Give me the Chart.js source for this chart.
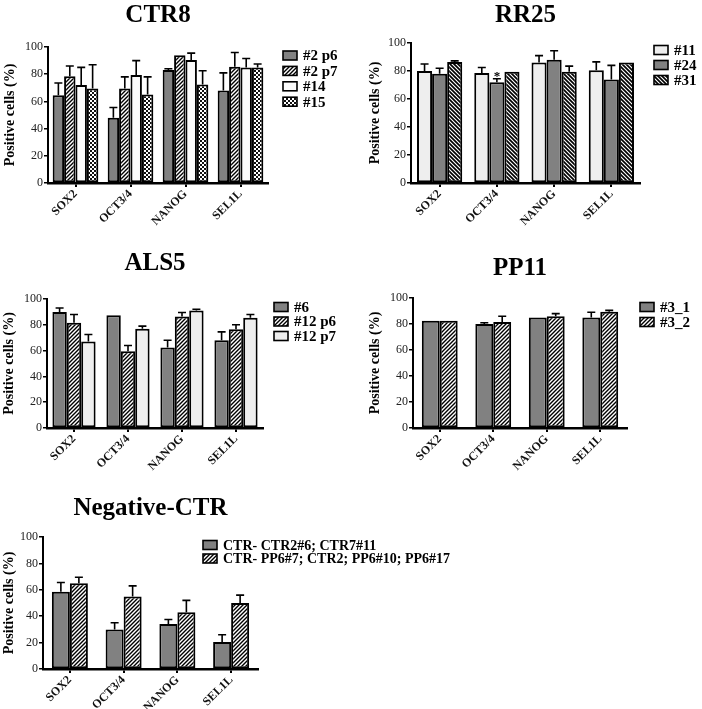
<!DOCTYPE html>
<html>
<head>
<meta charset="utf-8">
<script src="https://cdn.jsdelivr.net/npm/chart.js@4/dist/chart.umd.min.js"></script>
<style>
  body { margin: 0; background: #fff; width: 702px; height: 709px; position: relative; overflow: hidden; }
  canvas { position: absolute; }
</style>
</head>
<body>
<canvas id="ctr8" width="350" height="240" style="left:0;top:0"></canvas>
<canvas id="rr25" width="352" height="240" style="left:350px;top:0"></canvas>
<canvas id="als5" width="350" height="240" style="left:0;top:240px"></canvas>
<canvas id="pp11" width="352" height="240" style="left:350px;top:240px"></canvas>
<canvas id="neg" width="470" height="229" style="left:0;top:480px"></canvas>
<script>
// markers on the x axis (same for every panel)
const markers = ["SOX2", "OCT3/4", "NANOG", "SEL1L"];
const yTicks = [0, 20, 40, 60, 80, 100];

// CTR8
const ctr8Labels = ["#2 p6", "#2 p7", "#14", "#15"];
const ctr8_2p6 = [64.5, 48, 83, 68];
const ctr8_2p6Err = [9, 7.5, 1, 13];
const ctr8_2p7 = [78.5, 69.5, 94, 85.5];
const ctr8_2p7Err = [7.5, 8.5, 0.5, 10.5];
const ctr8_14 = [72, 79.5, 90.5, 85];
const ctr8_14Err = [13, 10.5, 5, 6.5];
const ctr8_15 = [69.5, 65, 72.5, 85];
const ctr8_15Err = [17.5, 13, 10, 2.5];

// RR25
const rr25Labels = ["#11", "#24", "#31"];
const rr25_11 = [80, 78.5, 86, 80.5];
const rr25_11Err = [5, 4, 5, 6];
const rr25_24 = [78, 72, 88, 74];
const rr25_24Err = [4, 2.5, 6.5, 10];
const rr25_24Stars = ["", "*", "", ""];
const rr25_31 = [86.5, 79.5, 79.5, 86];
const rr25_31Err = [0.7, 0.3, 4, 0.5];

// ALS5
const als5Labels = ["#6", "#12 p6", "#12 p7"];
const als5_6 = [90, 87.5, 62.5, 68];
const als5_6Err = [3, 0, 5.5, 6.5];
const als5_12p6 = [81.5, 59.5, 86.5, 76.5];
const als5_12p6Err = [6.5, 4.5, 3, 3.5];
const als5_12p7 = [67, 77, 91, 85.5];
const als5_12p7Err = [5.5, 2, 1, 2.5];

// PP11
const pp11Labels = ["#3_1", "#3_2"];
const pp11_1 = [82.5, 80, 85, 85];
const pp11_1Err = [0, 1, 0.3, 4];
const pp11_2 = [82.5, 81.5, 86, 89.5];
const pp11_2Err = [0.3, 4.5, 2, 1];

// Negative-CTR
const negLabels = ["CTR- CTR2#6; CTR7#11", "CTR- PP6#7; CTR2; PP6#10; PP6#17"];
const negA = [58.5, 30, 34, 20.5];
const negAErr = [7, 5, 3.5, 5.5];
const negB = [65, 55, 43, 50];
const negBErr = [4.5, 8, 9, 6];

const SERIF = "'Liberation Serif', 'Times New Roman', serif";
Chart.defaults.font.family = SERIF;
Chart.defaults.color = "#000";

// fills
const GRAY = "#818181";
const LIGHT = "#eeeeee";
const WHITE = "#fbfbfb";

function stripes(dir, gap, lw) {
    const c = document.createElement("canvas");
    c.width = c.height = gap;
    const g = c.getContext("2d");
    g.fillStyle = "#fff";
    g.fillRect(0, 0, gap, gap);
    g.strokeStyle = "#000";
    g.lineWidth = lw;
    g.beginPath();
    if (dir === "/") {
        g.moveTo(0, gap); g.lineTo(gap, 0);
        g.moveTo(-1, 1); g.lineTo(1, -1);
        g.moveTo(gap - 1, gap + 1); g.lineTo(gap + 1, gap - 1);
    } else {
        g.moveTo(0, 0); g.lineTo(gap, gap);
        g.moveTo(-1, gap - 1); g.lineTo(1, gap + 1);
        g.moveTo(gap - 1, -1); g.lineTo(gap + 1, 1);
    }
    g.stroke();
    return g.createPattern(c, "repeat");
}

function checks() {
    const c = document.createElement("canvas");
    c.width = c.height = 4;
    const g = c.getContext("2d");
    g.fillStyle = "#fff";
    g.fillRect(0, 0, 4, 4);
    g.fillStyle = "#111";
    g.fillRect(0, 0, 2, 2);
    g.fillRect(2, 2, 2, 2);
    g.fillRect(1, 1, 1, 1);
    return g.createPattern(c, "repeat");
}

const SLASH = stripes("/", 4, 1.4);
const BACK = stripes("\\", 4, 1.7);
const CHECK = checks();

// upper error bars (+ optional significance star)
Chart.register({
    id: "errBars",
    afterDatasetsDraw(chart) {
        const ctx = chart.ctx;
        const y = chart.scales.y;
        ctx.save();
        ctx.strokeStyle = "#000";
        ctx.lineWidth = 1.6;
        chart.data.datasets.forEach((ds, di) => {
            const meta = chart.getDatasetMeta(di);
            meta.data.forEach((bar, i) => {
                const top = y.getPixelForValue(ds.data[i]);
                const hi = y.getPixelForValue(ds.data[i] + (ds.err ? ds.err[i] : 0));
                if (top - hi > 0.8) {
                    ctx.beginPath();
                    ctx.moveTo(bar.x, top);
                    ctx.lineTo(bar.x, hi);
                    ctx.moveTo(bar.x - 4, hi);
                    ctx.lineTo(bar.x + 4, hi);
                    ctx.stroke();
                }
                if (ds.stars && ds.stars[i]) {
                    ctx.fillStyle = "#000";
                    ctx.font = "bold 13px " + SERIF;
                    ctx.textAlign = "center";
                    ctx.textBaseline = "alphabetic";
                    ctx.fillText(ds.stars[i], bar.x, hi + 1);
                }
            });
        });
        ctx.restore();
    }
});

// title centred over the plot area + legend at a fixed spot
Chart.register({
    id: "panelDeco",
    afterDraw(chart, args, opts) {
        const ctx = chart.ctx;
        const area = chart.chartArea;
        ctx.save();
        ctx.fillStyle = "#000";
        ctx.font = "bold 25px " + SERIF;
        ctx.textAlign = "center";
        ctx.textBaseline = "alphabetic";
        ctx.fillText(opts.title, (area.left + area.right) / 2, opts.titleY);

        ctx.font = "bold " + opts.legendFont + "px " + SERIF;
        ctx.textAlign = "left";
        ctx.textBaseline = "middle";
        chart.data.datasets.forEach((ds, i) => {
            const cy = opts.legendY + i * opts.legendGap;
            ctx.fillStyle = ds.backgroundColor;
            ctx.fillRect(opts.legendX, cy - 4.5, 14, 9);
            ctx.strokeStyle = "#000";
            ctx.lineWidth = 1.6;
            ctx.strokeRect(opts.legendX, cy - 4.5, 14, 9);
            ctx.fillStyle = "#000";
            ctx.fillText(ds.label, opts.legendX + 20, cy + 1);
        });
        ctx.restore();
    }
});

function bars(label, data, err, fill, extra) {
    return Object.assign({
        label: label,
        data: data,
        err: err,
        backgroundColor: fill,
        borderColor: "#000",
        borderWidth: 2,
        borderSkipped: false,
        barPercentage: 1
    }, extra || {});
}

function makePanel(id, datasets, p) {
    datasets.forEach(d => d.categoryPercentage = p.groupPct);
    new Chart(document.getElementById(id), {
        type: "bar",
        data: { labels: markers, datasets: datasets },
        options: {
            responsive: false,
            animation: false,
            devicePixelRatio: 1,
            layout: { padding: p.pad },
            plugins: {
                legend: { display: false },
                tooltip: { enabled: false },
                panelDeco: {
                    title: p.title, titleY: p.titleY,
                    legendX: p.legendX, legendY: p.legendY,
                    legendGap: p.legendGap, legendFont: p.legendFont || 15
                }
            },
            scales: {
                x: {
                    offset: true,
                    afterFit: s => { s.height = 45; },
                    grid: { offset: false, drawOnChartArea: false, tickLength: 4, color: "#000", lineWidth: 2 },
                    border: { color: "#000", width: 2.5 },
                    ticks: { minRotation: 45, maxRotation: 45, padding: 0, color: "#111", font: { size: 12, weight: "bold" } }
                },
                y: {
                    min: 0,
                    max: 100,
                    afterFit: s => { s.width = p.yWidth; },
                    afterBuildTicks: s => { s.ticks = yTicks.map(v => ({ value: v })); },
                    grid: { drawOnChartArea: false, tickLength: 4, color: "#000", lineWidth: 1.5 },
                    border: { color: "#000", width: 2 },
                    ticks: { padding: 1, color: "#222", font: { size: 12 } },
                    title: { display: true, text: "Positive cells (%)", padding: 0, font: { size: 14, weight: "bold" } }
                }
            }
        }
    });
}

makePanel("ctr8", [
    bars(ctr8Labels[0], ctr8_2p6, ctr8_2p6Err, GRAY),
    bars(ctr8Labels[1], ctr8_2p7, ctr8_2p7Err, SLASH),
    bars(ctr8Labels[2], ctr8_14, ctr8_14Err, WHITE),
    bars(ctr8Labels[3], ctr8_15, ctr8_15Err, CHECK)
], { title: "CTR8", titleY: 22, pad: { left: 2, top: 47, right: 82, bottom: 12 }, yWidth: 46,
     groupPct: 0.83, legendX: 283, legendY: 55.5, legendGap: 15.4 });

makePanel("rr25", [
    bars(rr25Labels[0], rr25_11, rr25_11Err, LIGHT),
    bars(rr25Labels[1], rr25_24, rr25_24Err, GRAY, { stars: rr25_24Stars }),
    bars(rr25Labels[2], rr25_31, rr25_31Err, BACK)
], { title: "RR25", titleY: 22, pad: { left: 17, top: 43, right: 62, bottom: 12 }, yWidth: 44,
     groupPct: 0.79, legendX: 304, legendY: 50, legendGap: 15 });

makePanel("als5", [
    bars(als5Labels[0], als5_6, als5_6Err, GRAY),
    bars(als5Labels[1], als5_12p6, als5_12p6Err, SLASH),
    bars(als5Labels[2], als5_12p7, als5_12p7Err, LIGHT)
], { title: "ALS5", titleY: 30, pad: { left: 1, top: 59, right: 87, bottom: 7 }, yWidth: 46,
     groupPct: 0.8, legendX: 274, legendY: 67, legendGap: 14.5 });

makePanel("pp11", [
    bars(pp11Labels[0], pp11_1, pp11_1Err, GRAY),
    bars(pp11Labels[1], pp11_2, pp11_2Err, SLASH)
], { title: "PP11", titleY: 35, pad: { left: 17, top: 58, right: 75, bottom: 7 }, yWidth: 46,
     groupPct: 0.67, legendX: 290, legendY: 67, legendGap: 15 });

makePanel("neg", [
    bars(negLabels[0], negA, negAErr, GRAY),
    bars(negLabels[1], negB, negBErr, SLASH)
], { title: "Negative-CTR", titleY: 35, pad: { left: 1, top: 57, right: 212, bottom: -5 }, yWidth: 42,
     groupPct: 0.67, legendX: 203, legendY: 65, legendGap: 13.5, legendFont: 14 });
</script>
</body>
</html>
